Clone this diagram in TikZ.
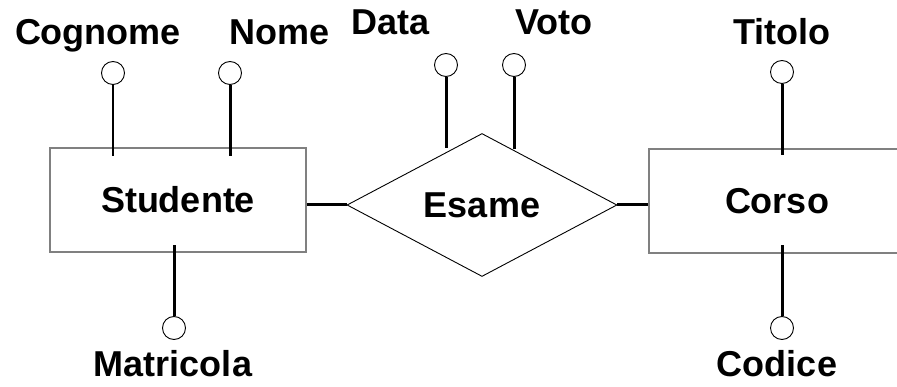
\documentclass[tikz,border=0pt]{standalone}
\usepackage{fontspec}
\setmainfont{Liberation Sans}
\usetikzlibrary{shapes.geometric,calc}
\begin{document}
\begin{tikzpicture}[x=1pt,y=-1pt,
  txt/.style={font=\fontsize{36}{40}\selectfont\bfseries},
  lbl/.style={txt, anchor=base, inner sep=0pt},
  entity/.style={txt, draw=black!50, line width=1.3pt, minimum width=256pt, minimum height=104pt, inner sep=0pt},
  rel/.style={txt, diamond, draw=black, line width=0.9pt, minimum width=270pt, minimum height=143pt, inner sep=0pt},
  attr/.style={circle, draw=black, line width=0.9pt, minimum size=23pt, inner sep=0pt},
  link/.style={line width=3pt, black}
]
\useasboundingbox (0,0) rectangle (897,387);
\clip (0,0) rectangle (897,387);

% entities and relationship
\node[entity] (stud) at (178,200) {Studente};
\node[entity] (corso) at (777,201) {Corso};
\node[rel] (esame) at (482,205) {Esame};

% relationship links
\draw[link] (esame.west) -- (esame.west -| stud.east);
\draw[link] (esame.east) -- (esame.east -| corso.west);

% attribute circles
\node[attr] (cCog) at (113,73) {};
\node[attr] (cNom) at (230,73) {};
\node[attr] (cDat) at (446,65) {};
\node[attr] (cVot) at (514,65) {};
\node[attr] (cTit) at (782,72) {};
\node[attr] (cMat) at (174,328) {};
\node[attr] (cCod) at (782,328) {};

% attachment points
\coordinate (pCog) at (113,156);
\coordinate (pNom) at (230,156);
\coordinate (pDat) at (446,148);
\coordinate (pVot) at (514,149);
\coordinate (pTit) at (782,155);
\coordinate (pMat) at (174,245);
\coordinate (pCod) at (782,245);

\draw[link, line width=2.7pt] (cCog.south) -- (pCog);
\draw[link] (cNom.south) -- (pNom);
\draw[link] (cDat.south) -- (pDat);
\draw[link] (cVot.south) -- (pVot);
\draw[link] (cTit.south) -- (pTit);
\draw[link] (cMat.north) -- (pMat);
\draw[link] (cCod.north) -- (pCod);

% attribute labels
\node[lbl] (tCog) at (98,45) {Cognome};
\node[lbl] (tNom) at (280,45) {Nome};
\node[lbl] (tDat) at (391,35) {Data};
\node[lbl] (tVot) at (554,35) {Voto};
\node[lbl] (tTit) at (782,45) {Titolo};
\node[lbl] (tMat) at (173,376) {Matricola};
\node[lbl] (tCod) at (777,376) {Codice};
\end{tikzpicture}
\end{document}
